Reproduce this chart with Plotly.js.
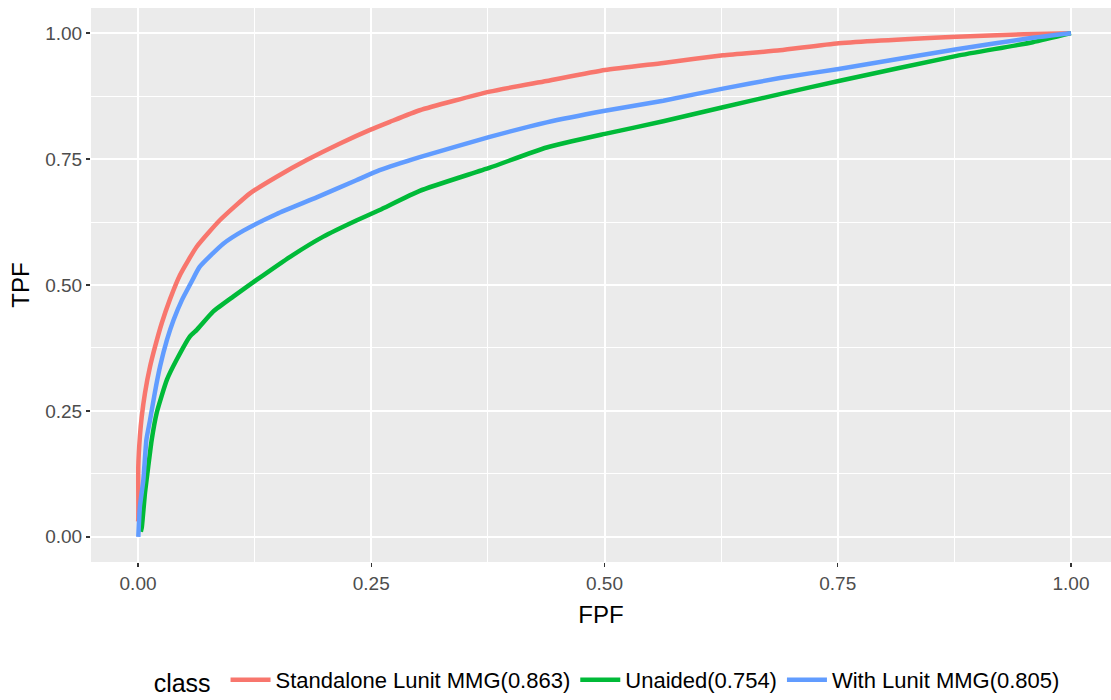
<!DOCTYPE html>
<html>
<head>
<meta charset="utf-8">
<script src="https://cdn.plot.ly/plotly-3.0.1.min.js"></script>
<style>html,body{margin:0;padding:0;background:#fff;}#chart{width:1111px;height:700px;}</style>
</head>
<body>
<div id="chart"></div>
<script>
const seriesNames = ["Standalone Lunit MMG(0.863)", "Unaided(0.754)", "With Lunit MMG(0.805)"];
const seriesColors = ["#F8766D", "#00BA38", "#619CFF"];

const standaloneFPF = [0, 0.0003, 0.0003, 0.002, 0.004, 0.0075, 0.0129, 0.0182, 0.0254, 0.0343, 0.045, 0.0629, 0.0879, 0.120, 0.1487, 0.1808, 0.2165, 0.2487, 0.270, 0.302, 0.377, 0.438, 0.5005, 0.563, 0.627, 0.688, 0.751, 0.8775, 0.95, 1];
const standaloneTPF = [0.03, 0.034, 0.14, 0.199, 0.239, 0.286, 0.338, 0.377, 0.424, 0.472, 0.520, 0.576, 0.629, 0.682, 0.715, 0.748, 0.781, 0.808, 0.824, 0.847, 0.884, 0.905, 0.927, 0.941, 0.956, 0.966, 0.980, 0.993, 0.998, 1];

const unaidedFPF = [0.003, 0.004, 0.0075, 0.011, 0.0147, 0.02, 0.031, 0.0415, 0.0557, 0.063, 0.081, 0.102, 0.127, 0.163, 0.1986, 0.234, 0.259, 0.302, 0.377, 0.438, 0.5005, 0.563, 0.627, 0.688, 0.751, 0.8775, 0.959, 1];
const unaidedTPF = [0.01, 0.018, 0.088, 0.14, 0.193, 0.246, 0.312, 0.352, 0.398, 0.411, 0.448, 0.477, 0.51, 0.556, 0.596, 0.628, 0.649, 0.687, 0.733, 0.773, 0.800, 0.825, 0.853, 0.879, 0.905, 0.955, 0.982, 1];

const withFPF = [0.0003, 0.002, 0.0057, 0.009, 0.013, 0.018, 0.0236, 0.031, 0.038, 0.047, 0.0575, 0.066, 0.0914, 0.113, 0.1487, 0.1915, 0.234, 0.259, 0.302, 0.377, 0.438, 0.5005, 0.563, 0.627, 0.688, 0.751, 0.8775, 0.959, 1];
const withTPF = [0.0, 0.06, 0.113, 0.193, 0.233, 0.286, 0.338, 0.391, 0.43, 0.47, 0.507, 0.536, 0.582, 0.608, 0.641, 0.674, 0.708, 0.728, 0.754, 0.794, 0.823, 0.846, 0.866, 0.890, 0.911, 0.929, 0.968, 0.991, 1];

const xTickVals = [0, 0.25, 0.5, 0.75, 1];
const xTickText = ["0.00", "0.25", "0.50", "0.75", "1.00"];
const yTickVals = [0, 0.25, 0.5, 0.75, 1];
const yTickText = ["0.00", "0.25", "0.50", "0.75", "1.00"];

const xs = [standaloneFPF, unaidedFPF, withFPF];
const ys = [standaloneTPF, unaidedTPF, withTPF];

const traces = seriesNames.map((n, i) => ({
  type: "scatter",
  mode: "lines",
  name: n,
  x: xs[i],
  y: ys[i],
  line: {color: seriesColors[i], width: 4.5, shape: "spline", smoothing: 0.5},
  hoverinfo: "skip"
}));

const fontFam = "Liberation Sans, Arial, sans-serif";

const layout = {
  width: 1111,
  height: 700,
  margin: {l: 91, r: 0, t: 8, b: 138, autoexpand: false},
  paper_bgcolor: "#FFFFFF",
  plot_bgcolor: "#EBEBEB",
  font: {family: fontFam, color: "#4D4D4D"},
  showlegend: true,
  xaxis: {
    range: [-0.0504, 1.0429],
    tickvals: xTickVals,
    ticktext: xTickText,
    showgrid: true,
    gridcolor: "#FFFFFF",
    gridwidth: 2,
    minor: {dtick: 0.125, tick0: 0.125, showgrid: true, gridcolor: "#FFFFFF", gridwidth: 1},
    zeroline: false,
    showline: false,
    ticks: "outside",
    ticklen: 4,
    tickwidth: 1.5,
    tickcolor: "#333333",
    automargin: false,
    tickfont: {size: 19, color: "#4D4D4D", family: fontFam},
    title: {text: "FPF", font: {size: 24, color: "#000000", family: fontFam}, standoff: 13}
  },
  yaxis: {
    range: [-0.05, 1.05],
    tickvals: yTickVals,
    ticktext: yTickText,
    showgrid: true,
    gridcolor: "#FFFFFF",
    gridwidth: 2,
    minor: {dtick: 0.125, tick0: 0.125, showgrid: true, gridcolor: "#FFFFFF", gridwidth: 1},
    zeroline: false,
    showline: false,
    ticks: "outside",
    ticklen: 4,
    tickwidth: 1.5,
    tickcolor: "#333333",
    automargin: false,
    tickfont: {size: 19, color: "#4D4D4D", family: fontFam},
    title: {text: "TPF", font: {size: 24, color: "#000000", family: fontFam}, standoff: 8}
  },
  legend: {
    orientation: "h",
    x: 0.507,
    xanchor: "center",
    y: -0.214,
    yanchor: "middle",
    font: {size: 22, color: "#000000", family: fontFam},
    title: {text: "class ", font: {size: 25, color: "#000000", family: fontFam}, side: "left"},
    itemwidth: 40,
    bgcolor: "rgba(0,0,0,0)"
  }
};

Plotly.newPlot("chart", traces, layout, {displayModeBar: false, staticPlot: true});
</script>
</body>
</html>
